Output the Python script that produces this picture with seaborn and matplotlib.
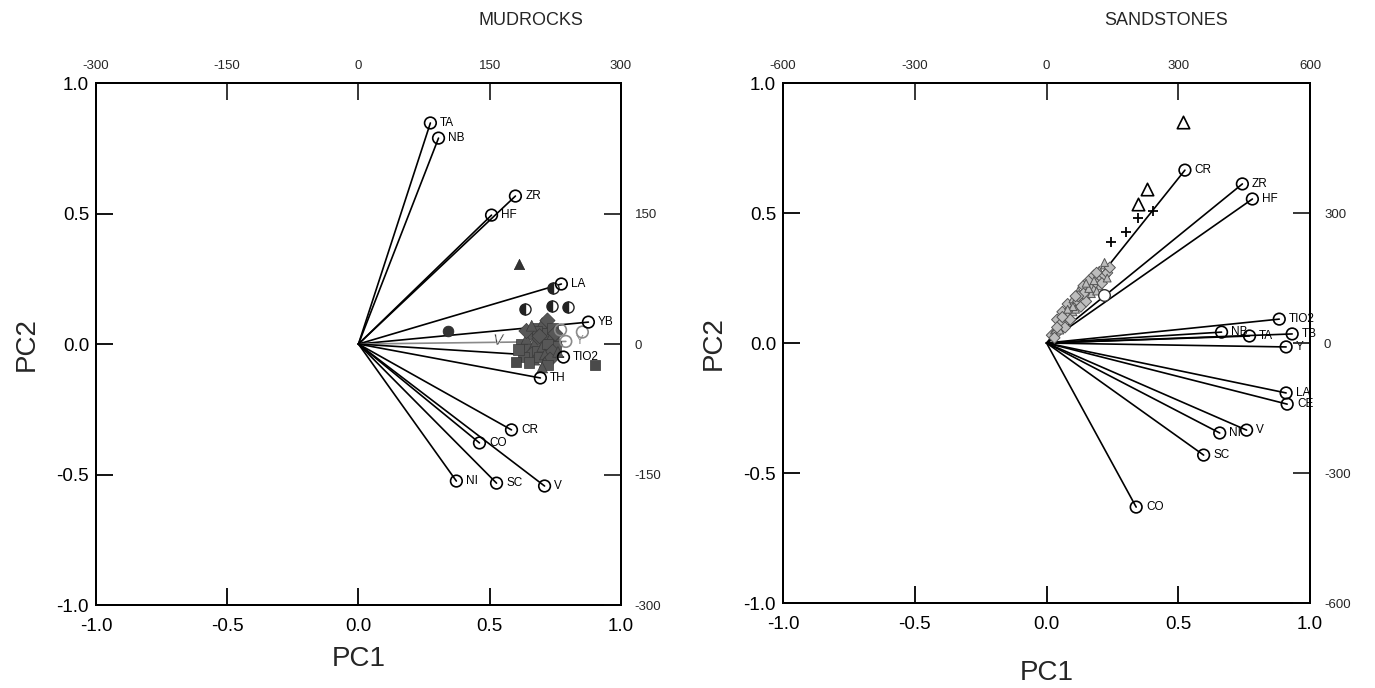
import matplotlib
matplotlib.use("Agg")
import matplotlib.pyplot as plt
from matplotlib.markers import MarkerStyle
import pandas as pd
import seaborn as sns

# ---------------- Mudrocks: variable loadings ----------------
mud_vars = ["TA", "NB", "ZR", "HF", "LA", "YB", "Y", "TIO2", "TH", "CR", "CO", "NI", "SC", "V"]
mud_pc1 = [0.274, 0.305, 0.598, 0.507, 0.773, 0.876, 0.790, 0.781, 0.693, 0.583, 0.461, 0.373, 0.526, 0.709]
mud_pc2 = [0.847, 0.789, 0.567, 0.494, 0.230, 0.084, 0.010, -0.050, -0.130, -0.329, -0.379, -0.525, -0.533, -0.544]
mud_grey_vars = ["Y"]

# Mudrocks: sample scores (dense cluster of filled markers)
mud_s1 = [0.62, 0.64, 0.66, 0.68, 0.70, 0.72, 0.74, 0.76, 0.65, 0.67, 0.69, 0.71, 0.73, 0.75,
          0.66, 0.68, 0.70, 0.72, 0.74, 0.67, 0.69, 0.71, 0.73, 0.63, 0.65, 0.70, 0.72, 0.68,
          0.71, 0.69, 0.74, 0.76, 0.64, 0.61, 0.66, 0.72, 0.75, 0.70]
mud_s2 = [0.00, 0.02, 0.04, 0.06, 0.07, 0.05, 0.03, 0.01, -0.02, 0.00, 0.02, 0.04, 0.02, -0.01,
          -0.04, -0.03, -0.01, 0.00, -0.03, -0.06, -0.05, -0.04, -0.06, -0.05, -0.07, 0.08, 0.09, 0.05,
          -0.07, 0.03, 0.06, -0.03, 0.05, -0.02, 0.07, -0.08, 0.04, -0.09]
mud_grp = ["s", "^", "D", "s", "^", "s", "D", "^", "s", "^", "D", "s", "^", "s",
           "D", "s", "^", "s", "D", "^", "s", "^", "D", "s", "s", "^", "D", "s",
           "^", "D", "s", "^", "D", "s", "^", "s", "D", "^"]

# Mudrocks: isolated samples
mud_sq_x = [0.600, 0.900]
mud_sq_y = [-0.070, -0.080]
mud_tri_x = [0.610]
mud_tri_y = [0.306]
mud_dot_x = [0.343]
mud_dot_y = [0.050]
mud_half_x = [0.743, 0.636, 0.739, 0.800]
mud_half_y = [0.215, 0.134, 0.146, 0.142]
mud_open_x = [0.770, 0.853]
mud_open_y = [0.054, 0.046]
mud_v_x = [0.537]
mud_v_y = [0.019]

# ---------------- Sandstones: variable loadings ----------------
sand_vars = ["CR", "ZR", "HF", "TIO2", "NB", "TA", "TB", "Y", "LA", "CE", "NI", "V", "SC", "CO"]
sand_pc1 = [0.525, 0.743, 0.781, 0.883, 0.664, 0.770, 0.932, 0.909, 0.909, 0.913, 0.657, 0.759, 0.596, 0.340]
sand_pc2 = [0.665, 0.612, 0.554, 0.092, 0.042, 0.027, 0.035, -0.015, -0.192, -0.235, -0.346, -0.335, -0.431, -0.631]

# Sandstones: sample scores (dense cluster of open markers)
sand_s1 = [0.02, 0.03, 0.04, 0.05, 0.04, 0.06, 0.07, 0.06, 0.08, 0.09, 0.08, 0.10, 0.11, 0.10, 0.12,
           0.13, 0.12, 0.14, 0.15, 0.14, 0.16, 0.17, 0.16, 0.18, 0.19, 0.18, 0.20, 0.21, 0.20, 0.22,
           0.23, 0.22, 0.24, 0.05, 0.09, 0.13, 0.17, 0.21, 0.11, 0.15, 0.07, 0.19, 0.03, 0.23,
           0.06, 0.10, 0.14, 0.18, 0.12, 0.16, 0.04, 0.08, 0.11, 0.15, 0.19, 0.22]
sand_s2 = [0.03, 0.05, 0.04, 0.07, 0.09, 0.08, 0.10, 0.12, 0.11, 0.13, 0.15, 0.12, 0.15, 0.17, 0.16,
           0.18, 0.20, 0.17, 0.20, 0.22, 0.19, 0.22, 0.24, 0.21, 0.23, 0.26, 0.22, 0.25, 0.28, 0.26,
           0.27, 0.30, 0.29, 0.05, 0.09, 0.14, 0.19, 0.23, 0.13, 0.16, 0.06, 0.20, 0.02, 0.25,
           0.10, 0.14, 0.19, 0.24, 0.18, 0.21, 0.06, 0.13, 0.18, 0.23, 0.27, 0.31]
sand_grp = ["D", "^", "D", "^", "D", "D", "^", "D", "^", "D", "D", "^", "D", "^", "D",
            "D", "^", "D", "^", "D", "D", "^", "D", "^", "D", "D", "^", "D", "^", "D",
            "D", "^", "D", "^", "D", "D", "^", "D", "^", "D", "D", "^", "D", "^",
            "D", "^", "D", "^", "D", "^", "D", "^", "D", "^", "D", "^"]

# Sandstones: isolated samples
sand_tri_x = [0.517, 0.381, 0.347]
sand_tri_y = [0.850, 0.592, 0.535]
sand_plus_x = [0.404, 0.347, 0.302, 0.245]
sand_plus_y = [0.508, 0.481, 0.427, 0.388]
sand_open_x = [0.219]
sand_open_y = [0.185]

# Axis annotation
main_ticks = [-1.0, -0.5, 0.0, 0.5, 1.0]
mud_score_ticks = [-300, -150, 0, 150, 300]
sand_score_ticks = [-600, -300, 0, 300, 600]

sns.set_theme(style="ticks")
plt.rcParams["font.family"] = ["Liberation Sans", "DejaVu Sans"]

fig = plt.figure(figsize=(13.75, 6.88), dpi=100)
ax_m = fig.add_axes([0.0698, 0.1206, 0.3818, 0.7587])
ax_s = fig.add_axes([0.5695, 0.1235, 0.3833, 0.7558])


def style_axes(ax, score_ticks, xpad, ylabpad):
    ax.set_xlim(-1, 1)
    ax.set_ylim(-1, 1)
    ax.set_xticks(main_ticks)
    ax.set_yticks(main_ticks)
    ax.set_xticklabels([f"{t:.1f}" for t in main_ticks])
    ax.set_yticklabels([f"{t:.1f}" for t in main_ticks])
    ax.tick_params(direction="in", length=12, width=1.3, labelsize=13.5, colors="black")
    ax.tick_params(axis="x", pad=9)
    ax.tick_params(axis="y", pad=5)
    for sp in ax.spines.values():
        sp.set_visible(True)
        sp.set_linewidth(1.3)
        sp.set_color("black")
    ax.set_xlabel("PC1", fontsize=20, labelpad=xpad)
    ax.set_ylabel("PC2", fontsize=20, labelpad=ylabpad)

    top = ax.twiny()
    top.set_xlim(score_ticks[0], score_ticks[-1])
    top.set_xticks(score_ticks)
    top.set_xticklabels([str(t) for t in score_ticks])
    top.tick_params(direction="in", length=12, width=1.3, labelsize=9.5, pad=8)
    right = ax.twinx()
    right.set_ylim(score_ticks[0], score_ticks[-1])
    right.set_yticks(score_ticks[:-1])
    right.set_yticklabels([str(t) for t in score_ticks[:-1]])
    right.tick_params(direction="in", length=12, width=1.3, labelsize=9.5, pad=10)
    for a in (top, right):
        for sp in a.spines.values():
            sp.set_linewidth(1.3)
            sp.set_color("black")
    return top, right


def draw_loadings(ax, names, xs, ys, grey_names=()):
    for n, x, y in zip(names, xs, ys):
        col = "#8a8a8a" if n in grey_names else "black"
        ax.plot([0, x], [0, y], color=col, lw=1.2, zorder=2)
    df = pd.DataFrame({"PC1": xs, "PC2": ys, "var": names})
    blk = df[~df["var"].isin(grey_names)]
    gry = df[df["var"].isin(grey_names)]
    sns.scatterplot(data=blk, x="PC1", y="PC2", ax=ax, marker="o", s=70,
                    facecolor="none", edgecolor="black", linewidth=1.2, zorder=4)
    if len(gry):
        sns.scatterplot(data=gry, x="PC1", y="PC2", ax=ax, marker="o", s=70,
                        facecolor="none", edgecolor="#8a8a8a", linewidth=1.2, zorder=4)
    for n, x, y in zip(names, xs, ys):
        col = "#8a8a8a" if n in grey_names else "black"
        ax.annotate(n, (x, y), xytext=(7, 0), textcoords="offset points",
                    va="center", ha="left", fontsize=8.5, color=col, zorder=5)


# ---------------- Mudrocks panel ----------------
draw_loadings(ax_m, mud_vars, mud_pc1, mud_pc2, mud_grey_vars)
mud_df = pd.DataFrame({"PC1": mud_s1, "PC2": mud_s2, "grp": mud_grp})
sns.scatterplot(data=mud_df, x="PC1", y="PC2", style="grp",
                markers={"s": "s", "^": "^", "D": "D"}, ax=ax_m, s=60,
                color="#575757", edgecolor="#3a3a3a", linewidth=0.5, legend=False, zorder=3)
sns.scatterplot(x=mud_sq_x, y=mud_sq_y, ax=ax_m, marker="s", s=60, color="#4a4a4a",
                edgecolor="#333333", linewidth=0.5, zorder=3)
sns.scatterplot(x=mud_tri_x, y=mud_tri_y, ax=ax_m, marker="^", s=55, color="#333333",
                edgecolor="#222222", linewidth=0.5, zorder=3)
sns.scatterplot(x=mud_dot_x, y=mud_dot_y, ax=ax_m, marker="o", s=60, color="#333333",
                edgecolor="#222222", linewidth=0.5, zorder=3)
ax_m.plot(mud_half_x, mud_half_y, linestyle="none",
          marker=MarkerStyle("o", fillstyle="left"), markersize=8,
          markerfacecolor="#222222", markerfacecoloralt="white",
          markeredgecolor="#222222", markeredgewidth=1.0, zorder=3)
sns.scatterplot(x=mud_open_x, y=mud_open_y, ax=ax_m, marker="o", s=70, facecolor="none",
                edgecolor="#8a8a8a", linewidth=1.2, zorder=3)
sns.scatterplot(x=mud_v_x, y=mud_v_y, ax=ax_m, marker="$V$", s=60, color="#333333",
                linewidth=0.3, zorder=3)
style_axes(ax_m, mud_score_ticks, xpad=8, ylabpad=12)

# ---------------- Sandstones panel ----------------
draw_loadings(ax_s, sand_vars, sand_pc1, sand_pc2)
sand_df = pd.DataFrame({"PC1": sand_s1, "PC2": sand_s2, "grp": sand_grp})
sns.scatterplot(data=sand_df, x="PC1", y="PC2", style="grp",
                markers={"^": "^", "D": "D"}, ax=ax_s, s=32,
                facecolor="#bdbdbd", edgecolor="#555555", linewidth=0.7, legend=False, zorder=3)
sns.scatterplot(x=sand_tri_x, y=sand_tri_y, ax=ax_s, marker="^", s=80, facecolor="white",
                edgecolor="black", linewidth=1.2, zorder=3)
sns.scatterplot(x=sand_plus_x, y=sand_plus_y, ax=ax_s, marker="+", s=60, color="black",
                linewidth=1.3, zorder=3)
sns.scatterplot(x=sand_open_x, y=sand_open_y, ax=ax_s, marker="o", s=70, facecolor="white",
                edgecolor="#333333", linewidth=1.0, zorder=3)
style_axes(ax_s, sand_score_ticks, xpad=20, ylabpad=12)

fig.text(0.386, 0.970, "MUDROCKS", fontsize=13, ha="center", va="center")
fig.text(0.848, 0.970, "SANDSTONES", fontsize=13, ha="center", va="center")

fig.savefig("out.png", dpi=100, facecolor="white")
